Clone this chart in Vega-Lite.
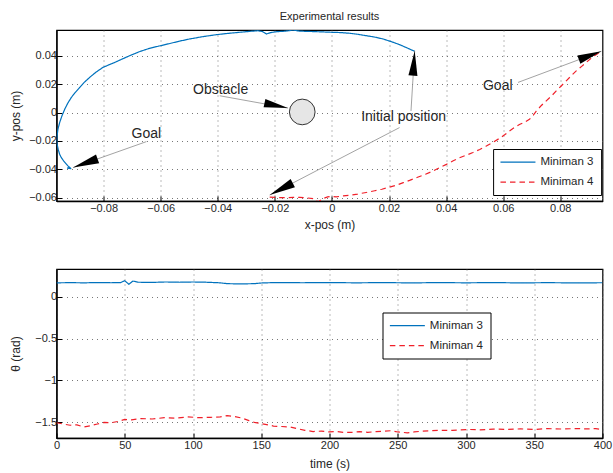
{
  "$schema": "https://vega.github.io/schema/vega-lite/v6.json",
  "background": "white",
  "padding": {"left": 8.5, "top": 10, "right": 2, "bottom": 2},
  "config": {
    "font": "Liberation Sans",
    "view": {"stroke": "#000", "strokeWidth": 1.2},
    "axis": {
      "domainColor": "#000", "domainWidth": 1.3,
      "grid": true, "gridColor": "#555", "gridDash": [1, 4], "gridWidth": 0.8,
      "ticks": true, "tickColor": "#000", "tickSize": -5, "tickWidth": 1,
      "labelFont": "Liberation Sans", "labelFontSize": 11, "labelColor": "#262626", "labelPadding": 5,
      "labelFlush": false,
      "titleFont": "Liberation Sans", "titleFontSize": 12, "titleFontWeight": "normal", "titleColor": "#262626"
    },
    "axisX": {"labelPadding": 6, "labelFlush": false},
    "legend": {
      "title": null, "orient": "none", "direction": "vertical",
      "padding": 6.7, "symbolType": "M-1,0L5,0", "symbolSize": 136, "symbolStrokeWidth": 1.2,
      "labelOffset": 27.6, "rowPadding": 8, "labelFont": "Liberation Sans", "labelFontSize": 11.5,
      "labelColor": "#262626", "strokeColor": "#000", "fillColor": "#fff", "cornerRadius": 0
    }
  },
  "datasets": {
    "traj": [
      {"robot": "Miniman 3", "x": 0.0290, "y": 0.0431},
      {"robot": "Miniman 3", "x": 0.0262, "y": 0.0456},
      {"robot": "Miniman 3", "x": 0.0237, "y": 0.0478},
      {"robot": "Miniman 3", "x": 0.0208, "y": 0.0499},
      {"robot": "Miniman 3", "x": 0.0179, "y": 0.0518},
      {"robot": "Miniman 3", "x": 0.0150, "y": 0.0531},
      {"robot": "Miniman 3", "x": 0.0120, "y": 0.0541},
      {"robot": "Miniman 3", "x": 0.0090, "y": 0.0551},
      {"robot": "Miniman 3", "x": 0.0062, "y": 0.0558},
      {"robot": "Miniman 3", "x": 0.0030, "y": 0.0563},
      {"robot": "Miniman 3", "x": -0.0002, "y": 0.0565},
      {"robot": "Miniman 3", "x": -0.0040, "y": 0.0568},
      {"robot": "Miniman 3", "x": -0.0080, "y": 0.0571},
      {"robot": "Miniman 3", "x": -0.0113, "y": 0.0573},
      {"robot": "Miniman 3", "x": -0.0137, "y": 0.0581},
      {"robot": "Miniman 3", "x": -0.0150, "y": 0.0576},
      {"robot": "Miniman 3", "x": -0.0170, "y": 0.0572},
      {"robot": "Miniman 3", "x": -0.0200, "y": 0.0568},
      {"robot": "Miniman 3", "x": -0.0215, "y": 0.0562},
      {"robot": "Miniman 3", "x": -0.0230, "y": 0.0553},
      {"robot": "Miniman 3", "x": -0.0243, "y": 0.0570},
      {"robot": "Miniman 3", "x": -0.0260, "y": 0.0576},
      {"robot": "Miniman 3", "x": -0.0290, "y": 0.0571},
      {"robot": "Miniman 3", "x": -0.0323, "y": 0.0565},
      {"robot": "Miniman 3", "x": -0.0365, "y": 0.0557},
      {"robot": "Miniman 3", "x": -0.0405, "y": 0.0548},
      {"robot": "Miniman 3", "x": -0.0450, "y": 0.0535},
      {"robot": "Miniman 3", "x": -0.0498, "y": 0.0518},
      {"robot": "Miniman 3", "x": -0.0535, "y": 0.0502},
      {"robot": "Miniman 3", "x": -0.0574, "y": 0.0483},
      {"robot": "Miniman 3", "x": -0.0608, "y": 0.0467},
      {"robot": "Miniman 3", "x": -0.0639, "y": 0.0452},
      {"robot": "Miniman 3", "x": -0.0675, "y": 0.0428},
      {"robot": "Miniman 3", "x": -0.0709, "y": 0.0400},
      {"robot": "Miniman 3", "x": -0.0755, "y": 0.0358},
      {"robot": "Miniman 3", "x": -0.0802, "y": 0.0318},
      {"robot": "Miniman 3", "x": -0.0828, "y": 0.0282},
      {"robot": "Miniman 3", "x": -0.0849, "y": 0.0247},
      {"robot": "Miniman 3", "x": -0.0868, "y": 0.0212},
      {"robot": "Miniman 3", "x": -0.0884, "y": 0.0176},
      {"robot": "Miniman 3", "x": -0.0900, "y": 0.0140},
      {"robot": "Miniman 3", "x": -0.0913, "y": 0.0106},
      {"robot": "Miniman 3", "x": -0.0926, "y": 0.0064},
      {"robot": "Miniman 3", "x": -0.0936, "y": 0.0024},
      {"robot": "Miniman 3", "x": -0.0946, "y": -0.0024},
      {"robot": "Miniman 3", "x": -0.0954, "y": -0.0071},
      {"robot": "Miniman 3", "x": -0.0960, "y": -0.0118},
      {"robot": "Miniman 3", "x": -0.0963, "y": -0.0164},
      {"robot": "Miniman 3", "x": -0.0964, "y": -0.0195},
      {"robot": "Miniman 3", "x": -0.0963, "y": -0.0223},
      {"robot": "Miniman 3", "x": -0.0959, "y": -0.0260},
      {"robot": "Miniman 3", "x": -0.0954, "y": -0.0294},
      {"robot": "Miniman 3", "x": -0.0948, "y": -0.0318},
      {"robot": "Miniman 3", "x": -0.0940, "y": -0.0341},
      {"robot": "Miniman 3", "x": -0.0932, "y": -0.0360},
      {"robot": "Miniman 3", "x": -0.0925, "y": -0.0376},
      {"robot": "Miniman 3", "x": -0.0918, "y": -0.0388},
      {"robot": "Miniman 3", "x": -0.0928, "y": -0.0392},
      {"robot": "Miniman 3", "x": -0.0913, "y": -0.0395},
      {"robot": "Miniman 4", "x": -0.0218, "y": -0.0596},
      {"robot": "Miniman 4", "x": -0.0190, "y": -0.0599},
      {"robot": "Miniman 4", "x": -0.0160, "y": -0.0600},
      {"robot": "Miniman 4", "x": -0.0135, "y": -0.0597},
      {"robot": "Miniman 4", "x": -0.0113, "y": -0.0597},
      {"robot": "Miniman 4", "x": -0.0090, "y": -0.0601},
      {"robot": "Miniman 4", "x": -0.0065, "y": -0.0606},
      {"robot": "Miniman 4", "x": -0.0048, "y": -0.0630},
      {"robot": "Miniman 4", "x": -0.0034, "y": -0.0608},
      {"robot": "Miniman 4", "x": -0.0015, "y": -0.0594},
      {"robot": "Miniman 4", "x": -0.0002, "y": -0.0590},
      {"robot": "Miniman 4", "x": 0.0015, "y": -0.0594},
      {"robot": "Miniman 4", "x": 0.0040, "y": -0.0587},
      {"robot": "Miniman 4", "x": 0.0062, "y": -0.0582},
      {"robot": "Miniman 4", "x": 0.0090, "y": -0.0574},
      {"robot": "Miniman 4", "x": 0.0120, "y": -0.0563},
      {"robot": "Miniman 4", "x": 0.0150, "y": -0.0551},
      {"robot": "Miniman 4", "x": 0.0175, "y": -0.0540},
      {"robot": "Miniman 4", "x": 0.0196, "y": -0.0529},
      {"robot": "Miniman 4", "x": 0.0225, "y": -0.0512},
      {"robot": "Miniman 4", "x": 0.0250, "y": -0.0494},
      {"robot": "Miniman 4", "x": 0.0272, "y": -0.0478},
      {"robot": "Miniman 4", "x": 0.0300, "y": -0.0456},
      {"robot": "Miniman 4", "x": 0.0328, "y": -0.0435},
      {"robot": "Miniman 4", "x": 0.0354, "y": -0.0412},
      {"robot": "Miniman 4", "x": 0.0378, "y": -0.0387},
      {"robot": "Miniman 4", "x": 0.0401, "y": -0.0365},
      {"robot": "Miniman 4", "x": 0.0425, "y": -0.0340},
      {"robot": "Miniman 4", "x": 0.0447, "y": -0.0319},
      {"robot": "Miniman 4", "x": 0.0470, "y": -0.0301},
      {"robot": "Miniman 4", "x": 0.0494, "y": -0.0282},
      {"robot": "Miniman 4", "x": 0.0518, "y": -0.0260},
      {"robot": "Miniman 4", "x": 0.0541, "y": -0.0236},
      {"robot": "Miniman 4", "x": 0.0565, "y": -0.0209},
      {"robot": "Miniman 4", "x": 0.0587, "y": -0.0182},
      {"robot": "Miniman 4", "x": 0.0605, "y": -0.0157},
      {"robot": "Miniman 4", "x": 0.0622, "y": -0.0130},
      {"robot": "Miniman 4", "x": 0.0640, "y": -0.0104},
      {"robot": "Miniman 4", "x": 0.0657, "y": -0.0084},
      {"robot": "Miniman 4", "x": 0.0675, "y": -0.0068},
      {"robot": "Miniman 4", "x": 0.0692, "y": -0.0048},
      {"robot": "Miniman 4", "x": 0.0705, "y": -0.0020},
      {"robot": "Miniman 4", "x": 0.0716, "y": 0.0010},
      {"robot": "Miniman 4", "x": 0.0733, "y": 0.0048},
      {"robot": "Miniman 4", "x": 0.0751, "y": 0.0082},
      {"robot": "Miniman 4", "x": 0.0770, "y": 0.0118},
      {"robot": "Miniman 4", "x": 0.0786, "y": 0.0152},
      {"robot": "Miniman 4", "x": 0.0805, "y": 0.0190},
      {"robot": "Miniman 4", "x": 0.0821, "y": 0.0223},
      {"robot": "Miniman 4", "x": 0.0840, "y": 0.0262},
      {"robot": "Miniman 4", "x": 0.0856, "y": 0.0293},
      {"robot": "Miniman 4", "x": 0.0875, "y": 0.0325},
      {"robot": "Miniman 4", "x": 0.0891, "y": 0.0353},
      {"robot": "Miniman 4", "x": 0.0906, "y": 0.0378},
      {"robot": "Miniman 4", "x": 0.0920, "y": 0.0400},
      {"robot": "Miniman 4", "x": 0.0933, "y": 0.0418},
      {"robot": "Miniman 4", "x": 0.0944, "y": 0.0431},
      {"robot": "Miniman 4", "x": 0.0946, "y": 0.0437}
    ],
    "theta": [
      {"robot": "Miniman 3", "t": 0, "theta": 0.165},
      {"robot": "Miniman 3", "t": 10, "theta": 0.167},
      {"robot": "Miniman 3", "t": 20, "theta": 0.165},
      {"robot": "Miniman 3", "t": 30, "theta": 0.168},
      {"robot": "Miniman 3", "t": 40, "theta": 0.166},
      {"robot": "Miniman 3", "t": 47, "theta": 0.168},
      {"robot": "Miniman 3", "t": 50, "theta": 0.19},
      {"robot": "Miniman 3", "t": 53, "theta": 0.148},
      {"robot": "Miniman 3", "t": 56, "theta": 0.186},
      {"robot": "Miniman 3", "t": 60, "theta": 0.172},
      {"robot": "Miniman 3", "t": 70, "theta": 0.170},
      {"robot": "Miniman 3", "t": 80, "theta": 0.175},
      {"robot": "Miniman 3", "t": 90, "theta": 0.172},
      {"robot": "Miniman 3", "t": 100, "theta": 0.175},
      {"robot": "Miniman 3", "t": 110, "theta": 0.172},
      {"robot": "Miniman 3", "t": 120, "theta": 0.165},
      {"robot": "Miniman 3", "t": 125, "theta": 0.155},
      {"robot": "Miniman 3", "t": 135, "theta": 0.152},
      {"robot": "Miniman 3", "t": 145, "theta": 0.155},
      {"robot": "Miniman 3", "t": 150, "theta": 0.163},
      {"robot": "Miniman 3", "t": 160, "theta": 0.168},
      {"robot": "Miniman 3", "t": 180, "theta": 0.166},
      {"robot": "Miniman 3", "t": 200, "theta": 0.168},
      {"robot": "Miniman 3", "t": 220, "theta": 0.165},
      {"robot": "Miniman 3", "t": 240, "theta": 0.168},
      {"robot": "Miniman 3", "t": 260, "theta": 0.164},
      {"robot": "Miniman 3", "t": 280, "theta": 0.168},
      {"robot": "Miniman 3", "t": 300, "theta": 0.165},
      {"robot": "Miniman 3", "t": 320, "theta": 0.168},
      {"robot": "Miniman 3", "t": 340, "theta": 0.164},
      {"robot": "Miniman 3", "t": 360, "theta": 0.167},
      {"robot": "Miniman 3", "t": 380, "theta": 0.164},
      {"robot": "Miniman 3", "t": 400, "theta": 0.166},
      {"robot": "Miniman 4", "t": 0, "theta": -1.505},
      {"robot": "Miniman 4", "t": 5, "theta": -1.52},
      {"robot": "Miniman 4", "t": 10, "theta": -1.535},
      {"robot": "Miniman 4", "t": 15, "theta": -1.53},
      {"robot": "Miniman 4", "t": 20, "theta": -1.555},
      {"robot": "Miniman 4", "t": 25, "theta": -1.54},
      {"robot": "Miniman 4", "t": 30, "theta": -1.52},
      {"robot": "Miniman 4", "t": 35, "theta": -1.50},
      {"robot": "Miniman 4", "t": 40, "theta": -1.505},
      {"robot": "Miniman 4", "t": 45, "theta": -1.49},
      {"robot": "Miniman 4", "t": 50, "theta": -1.465},
      {"robot": "Miniman 4", "t": 55, "theta": -1.47},
      {"robot": "Miniman 4", "t": 62, "theta": -1.455},
      {"robot": "Miniman 4", "t": 70, "theta": -1.46},
      {"robot": "Miniman 4", "t": 79, "theta": -1.445},
      {"robot": "Miniman 4", "t": 88, "theta": -1.45},
      {"robot": "Miniman 4", "t": 96, "theta": -1.435},
      {"robot": "Miniman 4", "t": 105, "theta": -1.445},
      {"robot": "Miniman 4", "t": 113, "theta": -1.44},
      {"robot": "Miniman 4", "t": 120, "theta": -1.435},
      {"robot": "Miniman 4", "t": 125, "theta": -1.42},
      {"robot": "Miniman 4", "t": 130, "theta": -1.43},
      {"robot": "Miniman 4", "t": 136, "theta": -1.45},
      {"robot": "Miniman 4", "t": 141, "theta": -1.48},
      {"robot": "Miniman 4", "t": 145, "theta": -1.50},
      {"robot": "Miniman 4", "t": 150, "theta": -1.515},
      {"robot": "Miniman 4", "t": 155, "theta": -1.53},
      {"robot": "Miniman 4", "t": 159, "theta": -1.545},
      {"robot": "Miniman 4", "t": 165, "theta": -1.55},
      {"robot": "Miniman 4", "t": 171, "theta": -1.555},
      {"robot": "Miniman 4", "t": 176, "theta": -1.575},
      {"robot": "Miniman 4", "t": 182, "theta": -1.595},
      {"robot": "Miniman 4", "t": 188, "theta": -1.61},
      {"robot": "Miniman 4", "t": 194, "theta": -1.605},
      {"robot": "Miniman 4", "t": 200, "theta": -1.615},
      {"robot": "Miniman 4", "t": 205, "theta": -1.61},
      {"robot": "Miniman 4", "t": 210, "theta": -1.62},
      {"robot": "Miniman 4", "t": 216, "theta": -1.62},
      {"robot": "Miniman 4", "t": 222, "theta": -1.61},
      {"robot": "Miniman 4", "t": 228, "theta": -1.62},
      {"robot": "Miniman 4", "t": 234, "theta": -1.61},
      {"robot": "Miniman 4", "t": 240, "theta": -1.605},
      {"robot": "Miniman 4", "t": 245, "theta": -1.60},
      {"robot": "Miniman 4", "t": 250, "theta": -1.615},
      {"robot": "Miniman 4", "t": 257, "theta": -1.625},
      {"robot": "Miniman 4", "t": 262, "theta": -1.615},
      {"robot": "Miniman 4", "t": 268, "theta": -1.605},
      {"robot": "Miniman 4", "t": 274, "theta": -1.60},
      {"robot": "Miniman 4", "t": 280, "theta": -1.595},
      {"robot": "Miniman 4", "t": 290, "theta": -1.595},
      {"robot": "Miniman 4", "t": 302, "theta": -1.585},
      {"robot": "Miniman 4", "t": 310, "theta": -1.59},
      {"robot": "Miniman 4", "t": 320, "theta": -1.58},
      {"robot": "Miniman 4", "t": 331, "theta": -1.585},
      {"robot": "Miniman 4", "t": 340, "theta": -1.578},
      {"robot": "Miniman 4", "t": 350, "theta": -1.585},
      {"robot": "Miniman 4", "t": 360, "theta": -1.575},
      {"robot": "Miniman 4", "t": 370, "theta": -1.58},
      {"robot": "Miniman 4", "t": 380, "theta": -1.575},
      {"robot": "Miniman 4", "t": 389, "theta": -1.578},
      {"robot": "Miniman 4", "t": 395, "theta": -1.575},
      {"robot": "Miniman 4", "t": 400, "theta": -1.585}
    ],
    "obstacle": [{"x": -0.0104, "y": 0.0004}],
    "arrows": [
      {"x": -0.0393, "y": 0.0118, "x2": -0.0154, "y2": 0.0031},
      {"x": -0.0650, "y": -0.0205, "x2": -0.0907, "y2": -0.0388},
      {"x": 0.0277, "y": 0.0011, "x2": 0.0290, "y2": 0.0435},
      {"x": 0.0237, "y": -0.0106, "x2": -0.0218, "y2": -0.0581},
      {"x": 0.0652, "y": 0.0212, "x2": 0.0944, "y2": 0.0431}
    ],
    "labels": [
      {"label": "Obstacle", "x": -0.0390, "y": 0.0160},
      {"label": "Goal", "x": -0.0650, "y": -0.0152},
      {"label": "Initial position", "x": 0.0251, "y": -0.0035},
      {"label": "Goal", "x": 0.0581, "y": 0.0188}
    ]
  },
  "bounds": "flush",
  "spacing": 68,
  "resolve": {
    "scale": {"color": "independent", "strokeDash": "independent"},
    "legend": {"color": "independent", "strokeDash": "independent"}
  },
  "vconcat": [
    {
      "width": 546,
      "height": 171,
      "title": {"text": "Experimental results", "fontSize": 11, "fontWeight": "normal", "color": "#262626", "offset": 8, "anchor": "middle", "font": "Liberation Sans"},
      "encoding": {
        "x": {
          "field": "x", "type": "quantitative",
          "scale": {"domain": [-0.0965, 0.0948], "nice": false, "zero": false},
          "axis": {"title": "x-pos (m)", "values": [-0.08, -0.06, -0.04, -0.02, 0, 0.02, 0.04, 0.06, 0.08], "labelExpr": "format(datum.value, '~g')", "titleY": 23, "titleBaseline": "middle", "labelFlush": false}
        },
        "y": {
          "field": "y", "type": "quantitative",
          "scale": {"domain": [-0.0623, 0.0581], "nice": false, "zero": false},
          "axis": {"title": "y-pos (m)", "values": [-0.06, -0.04, -0.02, 0, 0.02, 0.04], "labelExpr": "format(datum.value, '~g')", "titleX": -41, "titleBaseline": "middle", "labelFlush": false}
        }
      },
      "layer": [
        {
          "data": {"name": "traj"},
          "mark": {"type": "line", "strokeWidth": 1.2, "clip": true},
          "encoding": {
            "color": {"field": "robot", "type": "nominal", "scale": {"domain": ["Miniman 3", "Miniman 4"], "range": ["#0072BD", "#f0202a"]}, "legend": {"legendX": 436.6, "legendY": 119}},
            "strokeDash": {"field": "robot", "type": "nominal", "scale": {"domain": ["Miniman 3", "Miniman 4"], "range": [[1, 0], [5.5, 4]]}, "legend": {"legendX": 436.6, "legendY": 119}},
            "order": {"value": null}
          }
        },
        {
          "data": {"name": "obstacle"},
          "mark": {"type": "point", "filled": true, "fill": "#e6e6e6", "stroke": "#333", "strokeWidth": 1, "size": 660, "opacity": 1, "shape": "circle"}
        },
        {
          "data": {"name": "arrows"},
          "mark": {"type": "rule", "color": "#8c8c8c", "strokeWidth": 0.8},
          "encoding": {"x2": {"field": "x2"}, "y2": {"field": "y2"}}
        },
        {
          "data": {"values": [{"x": -0.0154, "y": 0.0031}]},
          "mark": {"type": "point", "shape": "M0,0L-2,-0.36L-2,0.36Z", "filled": true, "color": "#000", "opacity": 1, "size": 576, "angle": 12}
        },
        {
          "data": {"values": [{"x": -0.0907, "y": -0.0388}]},
          "mark": {"type": "point", "shape": "M0,0L-2,-0.36L-2,0.36Z", "filled": true, "color": "#000", "opacity": 1, "size": 676, "angle": 160.5}
        },
        {
          "data": {"values": [{"x": 0.0290, "y": 0.0435}]},
          "mark": {"type": "point", "shape": "M0,0L-2,-0.36L-2,0.36Z", "filled": true, "color": "#000", "opacity": 1, "size": 625, "angle": -86}
        },
        {
          "data": {"values": [{"x": -0.0218, "y": -0.0581}]},
          "mark": {"type": "point", "shape": "M0,0L-2,-0.36L-2,0.36Z", "filled": true, "color": "#000", "opacity": 1, "size": 676, "angle": 152.6}
        },
        {
          "data": {"values": [{"x": 0.0944, "y": 0.0431}]},
          "mark": {"type": "point", "shape": "M0,0L-2,-0.36L-2,0.36Z", "filled": true, "color": "#000", "opacity": 1, "size": 576, "angle": -20.4}
        },
        {
          "data": {"name": "labels"},
          "mark": {"type": "text", "fontSize": 14, "color": "#262626", "align": "center", "baseline": "middle", "font": "Liberation Sans"},
          "encoding": {"text": {"field": "label"}}
        }
      ]
    },
    {
      "width": 546,
      "height": 169,
      "data": {"name": "theta"},
      "mark": {"type": "line", "strokeWidth": 1.2, "clip": true},
      "encoding": {
        "x": {
          "field": "t", "type": "quantitative",
          "scale": {"domain": [0, 400], "nice": false, "zero": false},
          "axis": {"title": "time (s)", "values": [0, 50, 100, 150, 200, 250, 300, 350, 400], "labelExpr": "format(datum.value, '~g')", "titleY": 25.5, "titleBaseline": "middle", "labelFlush": false}
        },
        "y": {
          "field": "theta", "type": "quantitative",
          "scale": {"domain": [-1.687, 0.33], "nice": false, "zero": false},
          "axis": {"title": "θ  (rad)", "values": [-1.5, -1, -0.5, 0], "labelExpr": "format(datum.value, '~g')", "titleX": -41, "titleBaseline": "middle", "labelFlush": false}
        },
        "color": {"field": "robot", "type": "nominal", "scale": {"domain": ["Miniman 3", "Miniman 4"], "range": ["#0072BD", "#f0202a"]}, "legend": {"legendX": 326, "legendY": 43.5}},
        "strokeDash": {"field": "robot", "type": "nominal", "scale": {"domain": ["Miniman 3", "Miniman 4"], "range": [[1, 0], [5.5, 4]]}, "legend": {"legendX": 326, "legendY": 43.5}}
      }
    }
  ]
}
